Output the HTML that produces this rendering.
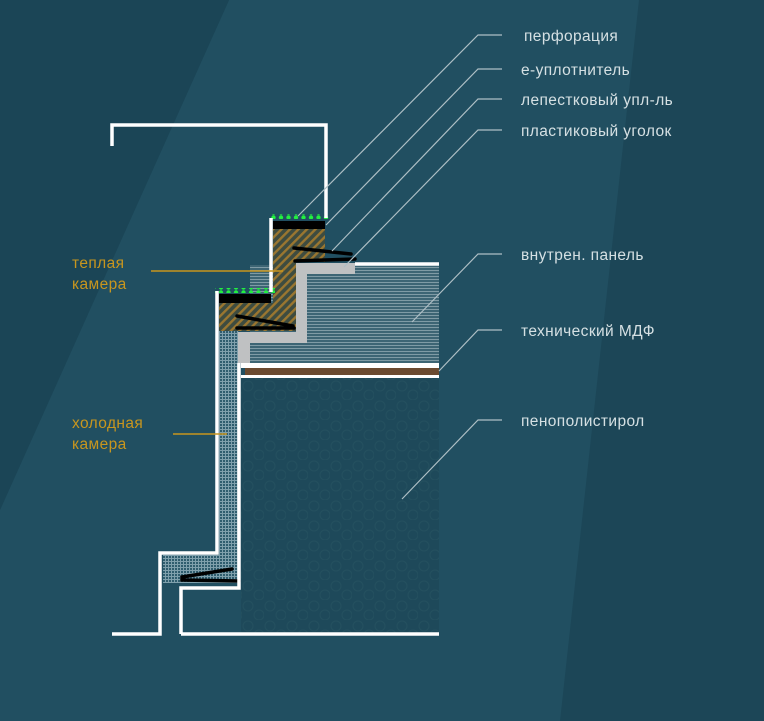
<!DOCTYPE html>
<html><head><meta charset="utf-8"><style>
html,body{margin:0;padding:0;background:#1d4758;}
svg{display:block}
text{font-family:"Liberation Sans","DejaVu Sans",sans-serif;font-size:15.5px;letter-spacing:0.4px;}
</style></head><body>
<svg width="764" height="721" viewBox="0 0 764 721" xmlns="http://www.w3.org/2000/svg">
<defs>
<pattern id="hatch" width="6" height="6" patternUnits="userSpaceOnUse" patternTransform="rotate(45)">
<rect width="6" height="6" fill="#3e4c40"/><rect width="2.4" height="6" fill="#9a7630"/></pattern>
<pattern id="hl" width="4" height="3" patternUnits="userSpaceOnUse">
<rect width="4" height="3" fill="#3d6574"/><rect width="4" height="1" fill="#7f9ba5"/></pattern>
<pattern id="grid" width="3" height="3" patternUnits="userSpaceOnUse">
<rect width="3" height="3" fill="#2f5d6e"/><rect width="3" height="1" fill="#7fa0ac"/><rect width="1" height="3" fill="#7fa0ac"/></pattern>
<pattern id="foam" width="22" height="20" patternUnits="userSpaceOnUse">
<rect width="22" height="20" fill="#1e495a"/><circle cx="6" cy="6" r="5" fill="none" stroke="#24505f" stroke-width="1"/><circle cx="17" cy="15" r="5" fill="none" stroke="#24505f" stroke-width="1"/></pattern>
<pattern id="dots" width="7.5" height="5" patternUnits="userSpaceOnUse"><circle cx="3.5" cy="2.5" r="2.2" fill="#22f040"/></pattern>
</defs>
<rect width="764" height="721" fill="#1d4758"/>
<polygon points="229,0 639,0 764,90 764,721 0,721 0,510" fill="#214f61"/>
<polygon points="639,0 764,0 764,721 560,721" fill="#1c4657"/>
<polygon points="0,0 229,0 0,510" fill="#1b4556"/>

<rect x="241" y="378" width="198" height="256" fill="url(#foam)"/>
<rect x="250" y="265" width="189" height="98" fill="url(#hl)"/>
<rect x="241" y="363" width="198" height="5" fill="#ffffff"/>
<rect x="245" y="368" width="194" height="7" fill="#6b4a30"/>
<rect x="241" y="375" width="198" height="3" fill="#ffffff"/>
<rect x="219" y="331" width="20" height="224" fill="url(#grid)"/>
<rect x="163" y="555" width="76" height="28" fill="url(#grid)"/>
<polygon points="273,229 325,229 325,262 296,262 296,331 219,331 219,303 273,303" fill="url(#hatch)"/>
<polygon points="296,263 355,263 355,274 307,274 307,343 250,343 250,363 238,363 238,332 296,332" fill="#bfc1c2"/>
<rect x="273" y="221" width="52" height="8" fill="#000"/>
<rect x="219" y="294" width="52" height="9" fill="#000"/>
<rect x="269" y="214" width="60" height="5" fill="url(#dots)"/>
<rect x="215" y="288" width="60" height="5" fill="url(#dots)"/>
<g stroke="#000" stroke-width="3.5" fill="none" stroke-linecap="round">
<path d="M294,248 L351,254 M295,261 L355,259"/>
<path d="M237,316 L293,326 M237,328 L294,328"/>
<path d="M232,569 L182,577 L182,580 L239,581"/>
</g>
<g stroke="#fff" stroke-width="3.5" fill="none">
<polyline points="112,146 112,125 326,125 326,218"/>
<polyline points="271,218 271,292"/>
<polyline points="217,291 217,553 160,553 160,634 112,634"/>
<polyline points="181,634 181,588 239,588 239,363"/>
<line x1="181" y1="634" x2="439" y2="634"/>
<line x1="355" y1="264" x2="439" y2="264"/>
</g>
<g stroke="#aebfc5" stroke-width="1.2" fill="none">
<polyline points="502,35 478,35 298,216"/>
<polyline points="502,69 478,69 326,225"/>
<polyline points="502,99 478,99 332,251"/>
<polyline points="502,130 478,130 344,267"/>
<polyline points="502,254 478,254 412,322"/>
<polyline points="502,330 478,330 439,371"/>
<polyline points="502,420 478,420 402,499"/>
</g>
<g fill="#d5e0e3">
<text x="524" y="41">перфорация</text>
<text x="521" y="75">е-уплотнитель</text>
<text x="521" y="105">лепестковый упл-ль</text>
<text x="521" y="136">пластиковый уголок</text>
<text x="521" y="260">внутрен. панель</text>
<text x="521" y="336">технический МДФ</text>
<text x="521" y="426">пенополистирол</text>
</g>
<g stroke="#c8961e" stroke-width="1.5"><line x1="151" y1="271" x2="283" y2="271"/><line x1="173" y1="434" x2="227" y2="434"/></g>
<g fill="#c8961e">
<text x="72" y="268">теплая</text><text x="72" y="289">камера</text>
<text x="72" y="428">холодная</text><text x="72" y="449">камера</text>
</g>
</svg>
</body></html>
